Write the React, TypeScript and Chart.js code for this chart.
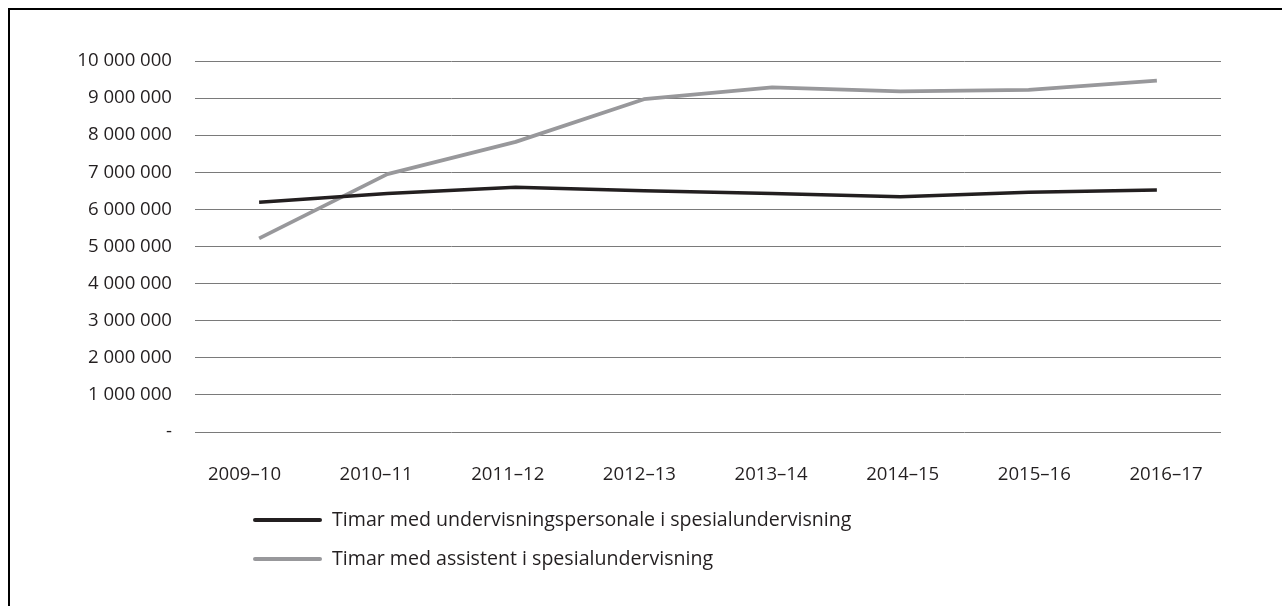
import React, { useEffect, useRef } from "react";
import { Chart, registerables } from "chart.js";

Chart.register(...registerables);

const categories = ["2009–10", "2010–11", "2011–12", "2012–13", "2013–14", "2014–15", "2015–16", "2016–17"];
const teacherHours = [6190000, 6430000, 6600000, 6500000, 6430000, 6340000, 6460000, 6520000];
const assistantHours = [5220000, 6950000, 7820000, 8970000, 9290000, 9180000, 9220000, 9470000];
const seriesNames = [
  "Timar med undervisningspersonale i spesialundervisning",
  "Timar med assistent i spesialundervisning",
];
const yMin = 0;
const yMax = 10000000;
const yStep = 1000000;

const TEXT = "#231f20";
const FONT = "'Open Sans', 'Noto Sans', sans-serif";

const fmt = (v: number) =>
  v === 0 ? "-" : String(Math.round(v)).replace(/\B(?=(\d{3})+(?!\d))/g, " ");

const stackedLegend = {
  id: "stackedLegend",
  afterDraw(chart: any) {
    const { ctx, chartArea } = chart;
    ctx.save();
    chart.data.datasets.forEach((ds: any, i: number) => {
      const y = chartArea.bottom + 88 + i * 39;
      const x0 = chartArea.left + 60;
      ctx.strokeStyle = ds.borderColor;
      ctx.lineWidth = 4;
      ctx.lineCap = "round";
      ctx.beginPath();
      ctx.moveTo(x0, y);
      ctx.lineTo(x0 + 65, y);
      ctx.stroke();
      ctx.fillStyle = TEXT;
      ctx.font = `19.6px ${FONT}`;
      ctx.textBaseline = "middle";
      ctx.textAlign = "left";
      ctx.fillText(ds.label, chartArea.left + 137, y);
    });
    ctx.restore();
  },
};

export default function App() {
  const ref = useRef<HTMLCanvasElement | null>(null);

  useEffect(() => {
    if (!ref.current) return;
    const chart = new Chart(ref.current, {
      type: "line",
      data: {
        labels: categories,
        datasets: [
          {
            label: seriesNames[0],
            data: teacherHours,
            borderColor: "#231f20",
            backgroundColor: "#231f20",
            borderWidth: 3.5,
            pointRadius: 0,
            tension: 0,
            borderJoinStyle: "round",
            xAxisID: "x",
            yAxisID: "y",
          },
          {
            label: seriesNames[1],
            data: assistantHours,
            borderColor: "#98989b",
            backgroundColor: "#98989b",
            borderWidth: 3.8,
            pointRadius: 0,
            tension: 0,
            borderJoinStyle: "round",
            xAxisID: "x",
            yAxisID: "y",
          },
        ],
      },
      options: {
        animation: false,
        responsive: true,
        maintainAspectRatio: false,
        layout: { padding: { top: 51, right: 61, bottom: 0, left: 0 } },
        plugins: {
          legend: { display: false },
          tooltip: { enabled: false },
        },
        scales: {
          x: {
            type: "category",
            offset: true,
            display: false,
          },
          xl: {
            type: "linear",
            position: "bottom",
            min: -0.376,
            max: 7.418,
            grid: { display: false },
            border: { display: false },
            afterBuildTicks: (s: any) => {
              s.ticks = categories.map((_, i) => ({ value: i }));
            },
            ticks: {
              autoSkip: false,
              maxRotation: 0,
              padding: 24,
              color: TEXT,
              font: { family: FONT, size: 18.6 },
              callback: (v: any) => categories[v as number] ?? "",
            },
            afterFit: (s: any) => {
              s.height = 174;
            },
          } as any,
          y: {
            min: yMin,
            max: yMax,
            border: { display: false },
            grid: { color: "#7a7a7a", lineWidth: 1, drawTicks: false },
            ticks: {
              stepSize: yStep,
              padding: 23,
              color: TEXT,
              font: { family: FONT, size: 18.6 },
              callback: (v: any) => fmt(Number(v)),
            },
            afterFit: (s: any) => {
              s.width = 185;
            },
          },
        },
      },
      plugins: [stackedLegend],
    });
    return () => chart.destroy();
  }, []);

  return (
    <div style={{ position: "fixed", left: 8, top: 8, right: 0, bottom: 0, overflow: "hidden", background: "#fff" }}>
      <div style={{ width: 1320, height: 700, border: "2px solid #000", boxSizing: "border-box" }}>
        <div style={{ width: 1272, height: 596, position: "relative" }}>
          <canvas ref={ref} />
        </div>
      </div>
    </div>
  );
}
